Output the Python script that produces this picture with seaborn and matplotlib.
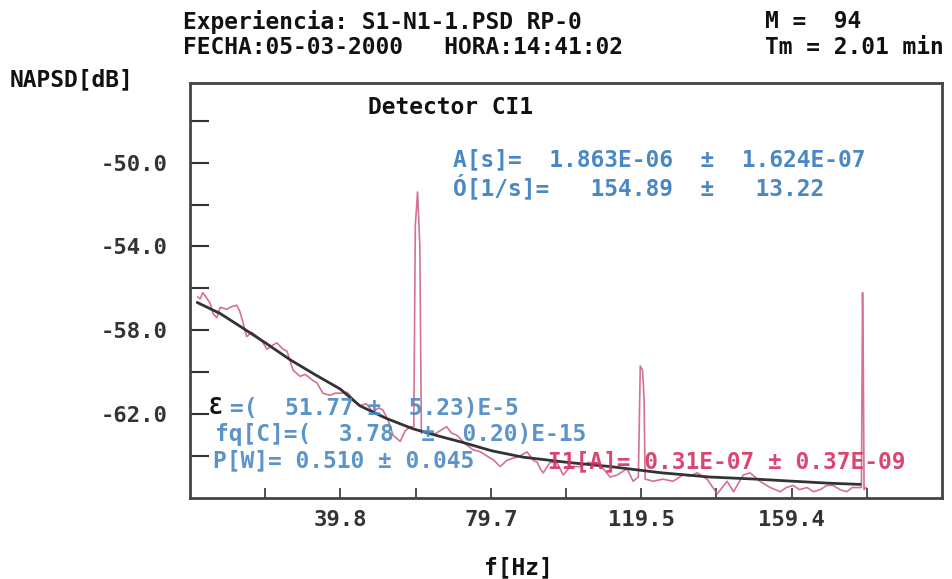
import numpy as np
import pandas as pd
import matplotlib
matplotlib.use('Agg')
import matplotlib.pyplot as plt
import seaborn as sns

freq_hz = [2.0, 2.7, 3.4, 4.2, 5.3, 6.1, 7.1, 8.0, 9.8, 10.6, 12.4, 13.2, 14.0, 15.0,
           16.4, 17.8, 19.0, 20.4, 22.0, 23.0, 24.7, 25.7, 27.3, 29.2, 30.5, 32.6,
           33.6, 35.2, 37.1, 38.5, 40.0, 41.6, 43.3, 45.0, 46.7, 48.5, 50.0, 51.1,
           52.5, 53.8, 55.7, 57.0, 58.3, 59.3, 59.7, 60.3, 60.9, 61.3, 62.5, 64.4,
           66.2, 68.0, 69.3, 70.7, 72.8, 75.0, 77.0, 78.7, 80.5, 82.2, 84.0, 85.6,
           87.4, 89.3, 91.0, 92.0, 92.8, 93.6, 95.4, 97.2, 98.9, 100.8, 103.4, 105.5,
           107.8, 109.5, 111.3, 113.2, 115.8, 117.4, 118.8, 119.3, 119.9, 120.3, 120.6,
           122.7, 125.3, 128.0, 130.6, 132.5, 134.4, 137.0, 139.7, 142.3, 144.0, 146.6,
           148.4, 151.0, 153.7, 156.4, 158.0, 159.8, 161.5, 163.5, 165.2, 167.0, 168.7,
           170.4, 172.2, 174.0, 175.5, 176.7, 177.9, 178.2, 178.4, 178.6, 179.2]
napsd_db = [-56.4, -56.5, -56.2, -56.4, -56.7, -57.2, -57.4, -56.9, -57.0, -56.9, -56.8,
            -57.1, -57.6, -58.3, -58.1, -58.3, -58.5, -58.9, -58.7, -58.6, -58.9, -59.0,
            -59.9, -60.2, -60.1, -60.4, -60.5, -61.0, -61.1, -61.0, -61.0, -60.95, -61.3,
            -61.6, -61.5, -61.9, -61.7, -61.8, -62.3, -63.0, -63.3, -62.8, -62.6, -62.6,
            -53.0, -51.4, -54.0, -62.9, -62.8, -63.0, -62.8, -62.6, -62.9, -63.0, -63.4,
            -63.7, -63.8, -64.0, -64.2, -64.5, -64.2, -64.1, -64.0, -63.8, -64.2, -64.3,
            -64.6, -64.8, -64.3, -64.3, -64.9, -64.5, -64.5, -64.3, -64.4, -64.6, -65.0,
            -64.9, -64.6, -65.2, -65.0, -59.7, -59.9, -61.2, -65.1, -65.2, -65.1, -65.2,
            -64.9, -64.95, -64.8, -65.1, -65.8, -65.2, -65.7, -64.9, -64.8, -65.2, -65.5,
            -65.7, -65.5, -65.4, -65.6, -65.5, -65.7, -65.6, -65.4, -65.4, -65.6, -65.7,
            -65.5, -65.5, -65.5, -56.2, -59.7, -65.6, -65.5]

# fitted curve
fit_hz = [1.9, 8, 13.2, 20, 26.5, 33, 39.8, 45, 52, 59.1, 66, 72.3, 80, 88.2, 100,
          111.3, 125, 137.8, 150, 159.8, 170, 177.6]
fit_db = [-56.67, -57.2, -57.8, -58.6, -59.4, -60.1, -60.8, -61.6, -62.2, -62.7, -63.05,
          -63.35, -63.75, -64.05, -64.3, -64.5, -64.8, -65.0, -65.1, -65.2, -65.3, -65.35]

x_tick_pos = [19.9, 39.85, 59.8, 79.7, 99.6, 119.55, 139.5, 159.4, 179.3]
x_tick_labels = ['', '39.8', '', '79.7', '', '119.5', '', '159.4', '']
y_tick_pos = [-64, -62, -60, -58, -56, -54, -52, -50, -48]
y_tick_labels = ['', '-62.0', '', '-58.0', '', '-54.0', '', '-50.0', '']

header_1 = 'Experiencia: S1-N1-1.PSD RP-0'
header_2 = 'FECHA:05-03-2000   HORA:14:41:02'
header_m = 'M =  94'
header_tm = 'Tm = 2.01 min'
fit_a = 'A[s]=  1.863E-06  ±  1.624E-07'
fit_alpha = 'Ó[1/s]=   154.89  ±   13.22'
eps_val = '=(  51.77 ±  5.23)E-5'
fq_val = 'fq[C]=(  3.78  ±  0.20)E-15'
pw_val = 'P[W]= 0.510 ± 0.045'
i1_val = 'I1[A]= 0.31E-07 ± 0.37E-09'

sns.set_style('white')
plt.rcParams['font.family'] = ['DejaVu Sans Mono']
plt.rcParams['font.weight'] = 'bold'

W, H = 952, 579
fig = plt.figure(figsize=(W / 100, H / 100), dpi=100)
ax = fig.add_axes([190 / W, 1 - 498 / H, 752 / W, 415 / H])

spec = pd.DataFrame({'f': freq_hz, 'db': napsd_db})
fit = pd.DataFrame({'f': fit_hz, 'db': fit_db})
sns.lineplot(data=spec, x='f', y='db', ax=ax, color='#cc5a7c', lw=1.2, alpha=0.85,
             estimator=None, sort=False)
sns.lineplot(data=fit, x='f', y='db', ax=ax, color='#333333', lw=2, estimator=None)

ax.set_xlim(0, 199.25)
ax.set_ylim(-66, -46.2)
ax.set_xticks(x_tick_pos)
ax.set_xticklabels(x_tick_labels)
ax.set_yticks(y_tick_pos)
ax.set_yticklabels(y_tick_labels)
ax.set_xlabel('')
ax.set_ylabel('')
ax.tick_params(axis='y', direction='in', length=14, width=1.5, color='#333333',
               pad=16, labelsize=16, labelcolor='#333333', left=True)
ax.tick_params(axis='x', direction='in', length=7, width=1.2, color='#333333',
               pad=9, labelsize=16, labelcolor='#333333', bottom=True)
for s in ax.spines.values():
    s.set_color('#444444')
    s.set_linewidth(2)

def px_text(x, y, s, **kw):
    fig.text(x / W, 1 - y / H, s, va='center', ha='left', fontweight='bold', **kw)

px_text(183, 22, header_1, fontsize=16.5, color='#111111')
px_text(183, 48, header_2, fontsize=16.5, color='#111111')
px_text(765, 22, header_m, fontsize=16.5, color='#111111')
px_text(765, 48, header_tm, fontsize=16.5, color='#111111')
px_text(10, 80, 'NAPSD[dB]', fontsize=16.5, color='#111111')
px_text(368, 107, 'Detector CI1', fontsize=16.5, color='#111111')
px_text(453, 160, fit_a, fontsize=16.5, color='#4a88c4')
px_text(453, 187, fit_alpha, fontsize=16.5, color='#4a88c4')
px_text(209, 408, 'Ɛ', fontsize=16.5, color='#111111')
px_text(230, 408, eps_val, fontsize=16.5, color='#4a88c4', alpha=0.9)
px_text(215, 435, fq_val, fontsize=16.5, color='#4a88c4', alpha=0.9)
px_text(213, 461, pw_val, fontsize=16.5, color='#4a88c4', alpha=0.9)
px_text(548, 462, i1_val, fontsize=16.5, color='#d83262', alpha=0.9)
fig.text(518 / W, 1 - 568 / H, 'f[Hz]', ha='center', va='center', fontsize=16.5,
         fontweight='bold', color='#111111')

fig.savefig('out.png', dpi=100)
